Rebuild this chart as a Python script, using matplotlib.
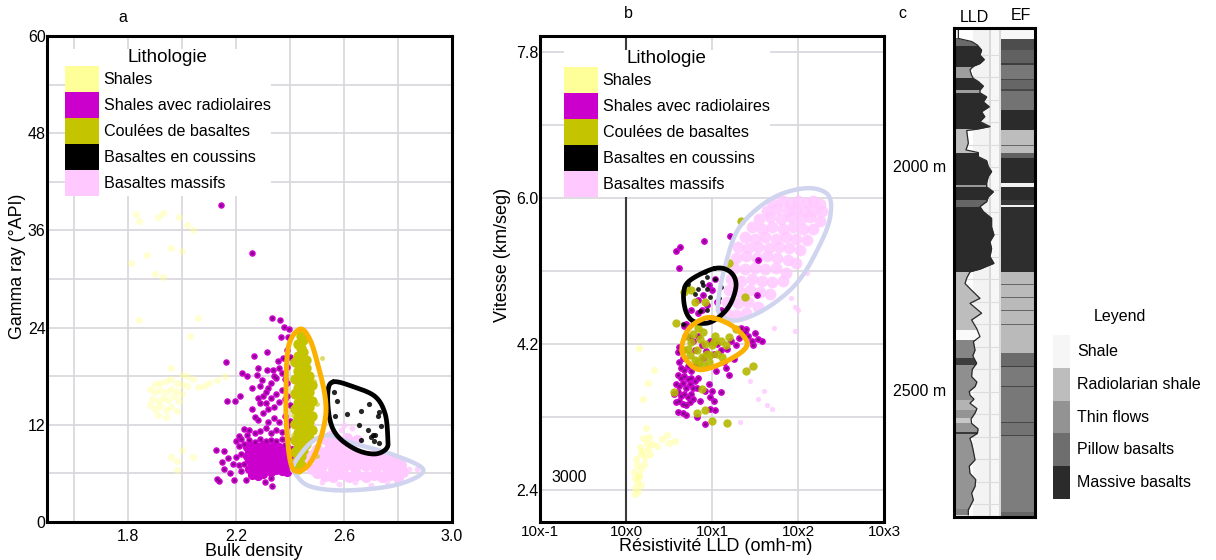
import numpy as np
import matplotlib
matplotlib.use('Agg')
import matplotlib.pyplot as plt
from matplotlib.patches import Patch, Rectangle

plt.rcParams['font.family'] = ['Liberation Sans', 'DejaVu Sans']

# --- Legend text ---
litho_labels = ['Shales', 'Shales avec radiolaires', 'Coulées de basaltes', 'Basaltes en coussins', 'Basaltes massifs']
ef_labels = ['Shale', 'Radiolarian shale', 'Thin flows', 'Pillow basalts', 'Massive basalts']

# --- Panel a: bulk density, gamma ray ---
a_shales = [(1.83,38.0),(1.84,37.2),(1.91,37.7),(1.93,38.2),(1.99,37.6),(2.02,36.7),(2.04,36.0),(1.96,33.8),(1.87,33.0),(1.81,32.0),
            (1.90,30.6),(1.93,30.2),(2.00,33.4),(1.84,25.0),(2.06,25.2),(2.03,23.0),(1.96,19.0),(2.00,18.2),(2.02,18.0),(2.04,17.6),
            (1.90,17.0),(1.92,17.2),(1.94,17.4),(1.96,17.6),(1.98,17.2),(2.00,17.0),(2.02,16.8),(1.88,16.4),(1.90,16.0),(1.92,16.3),
            (1.94,16.0),(1.96,16.4),(1.98,16.2),(2.00,15.8),(1.89,15.2),(1.91,15.0),(1.93,15.3),(1.95,15.1),(1.97,15.5),(1.99,14.9),
            (1.88,14.4),(1.90,14.0),(1.92,14.3),(1.94,13.8),(1.96,14.2),(1.98,13.7),(1.91,13.2),(1.94,13.0),(2.06,16.7),(2.10,17.1),
            (2.13,17.5),(2.16,18.0),(2.08,16.8),(1.96,8.0),(1.98,7.5),(2.00,8.9),(2.04,8.0),(1.98,6.4)]
a_radio = [(2.144,39.1),(2.26,33.2),(2.332,25.2),(2.363,25.0),(2.378,24.1),(2.398,23.8),(2.365,22.9),(2.394,22.9),(2.314,21.0),(2.267,20.5),
           (2.163,19.7),(2.357,19.9),(2.375,20.2),(2.283,19.0),(2.221,18.4),(2.239,18.0),(2.277,18.1),(2.314,18.8),(2.338,18.8),(2.295,17.5),
           (2.258,16.6),(2.289,16.8),(2.317,16.5),(2.168,15.0),(2.198,14.9),(2.215,15.6),(2.258,14.0),(2.289,14.7),(2.126,8.9),(2.156,8.8),
           (2.147,7.4),(2.169,7.9),(2.156,6.6),(2.178,6.0),(2.128,5.3),(2.136,5.1),(2.194,5.2),(2.236,5.2),(2.307,5.0),(2.328,5.4),(2.332,4.4),
           (2.27,13.0),(2.28,12.6),(2.30,13.4),(2.31,14.7),(2.32,13.9),(2.33,15.3),(2.34,14.2),(2.35,15.8),(2.36,14.8),(2.37,16.3),(2.38,15.2),
           (2.39,17.1),(2.31,16.0),(2.33,17.2),(2.35,17.8),(2.37,18.4),(2.39,19.1),(2.36,19.0),(2.34,18.0),(2.30,15.6),(2.28,15.3),(2.32,12.4),
           (2.34,12.9),(2.36,12.3),(2.38,13.1),(2.39,11.8),(2.37,11.1),(2.35,11.4),(2.33,11.0),(2.31,11.6),(2.29,11.2),(2.27,11.0),(2.25,11.3),
           (2.24,10.8),(2.23,11.5),(2.22,10.3),(2.21,10.6),(2.20,10.0),(2.21,9.4),(2.23,9.6),(2.25,10.1),(2.27,9.9),(2.29,10.2),(2.31,10.0),
           (2.33,10.1),(2.35,10.0),(2.37,10.2),(2.39,10.3),(2.40,12.5),(2.38,9.5),(2.40,14.4),(2.39,15.5),(2.38,17.6),(2.40,20.4),(2.39,21.2),
           (2.23,7.2),(2.21,7.0),(2.20,8.0),(2.22,8.4),(2.19,7.1),(2.22,6.3)]
a_radio_dense = [(2.24,9.2),(2.26,9.4),(2.28,9.3),(2.30,9.5),(2.32,9.2),(2.34,9.4),(2.36,9.3),(2.39,9.1),(2.25,8.7),(2.27,8.8),(2.29,8.6),(2.31,8.8),
                 (2.33,8.6),(2.35,8.8),(2.37,8.6),(2.39,8.7),(2.41,8.9),(2.24,8.2),(2.26,8.0),(2.28,8.2),(2.30,8.0),(2.32,8.2),(2.34,8.0),(2.36,8.2),
                 (2.38,8.0),(2.40,8.2),(2.25,7.6),(2.27,7.4),(2.29,7.6),(2.31,7.4),(2.33,7.6),(2.35,7.4),(2.37,7.6),(2.39,7.4),(2.41,7.5),(2.26,6.9),
                 (2.28,6.8),(2.30,7.0),(2.32,6.8),(2.34,7.0),(2.36,6.8),(2.38,7.0),(2.40,6.8),(2.27,6.3),(2.29,6.2),(2.31,6.4),(2.33,6.2),(2.35,6.4),
                 (2.37,6.3),(2.39,6.2),(2.25,6.5),(2.26,5.8),(2.28,5.7),(2.30,5.9)]
a_flows = [(2.44,23.0),(2.45,22.5),(2.43,22.0),(2.44,21.5),(2.45,21.0),(2.43,20.5),(2.46,20.0),(2.42,19.8),(2.44,19.4),(2.46,19.0),
           (2.43,18.6),(2.45,18.2),(2.47,18.0),(2.42,17.7),(2.44,17.4),(2.46,17.1),(2.48,16.9),(2.43,16.6),(2.45,16.3),(2.47,16.0),
           (2.42,15.8),(2.44,15.5),(2.46,15.2),(2.48,15.0),(2.43,14.7),(2.45,14.4),(2.47,14.2),(2.42,14.0),(2.44,13.7),(2.46,13.4),
           (2.48,13.1),(2.43,12.9),(2.45,12.6),(2.47,12.3),(2.42,12.1),(2.44,11.8),(2.46,11.5),(2.48,11.3),(2.43,11.0),(2.45,10.7),
           (2.47,10.4),(2.42,10.1),(2.44,9.8),(2.46,9.6),(2.43,9.2),(2.45,8.9),(2.42,8.6),(2.44,8.2),(2.43,7.8),(2.42,7.3),(2.44,7.0),
           (2.43,6.6)]
a_flows_edge = [(2.50,19.5),(2.49,17.4),(2.50,14.6),(2.41,16.2),(2.41,13.2),(2.41,10.8),(2.50,8.2),(2.52,20.3)]
a_pillow = [(2.564,16.0),(2.573,14.9),(2.567,13.1),(2.61,13.3),(2.663,13.7),(2.691,14.6),(2.731,13.6),(2.727,13.1),(2.654,12.0),(2.736,11.9),
            (2.69,11.3),(2.706,10.7),(2.715,10.7),(2.699,10.5),(2.663,10.1),(2.711,10.0),(2.73,9.8)]
a_massive = [(2.46,7.2),(2.48,6.5),(2.50,7.8),(2.52,6.9),(2.54,7.5),(2.56,6.6),(2.58,7.4),(2.60,6.8),(2.62,7.6),(2.64,6.7),(2.66,7.4),(2.68,6.9),
             (2.70,7.5),(2.72,6.7),(2.74,7.2),(2.76,6.6),(2.78,7.0),(2.80,6.4),(2.82,6.2),(2.50,9.0),(2.53,8.7),(2.55,9.5),(2.57,8.6),(2.59,9.1),
             (2.61,8.2),(2.63,8.9),(2.65,8.3),(2.53,10.2),(2.55,10.6),(2.57,10.0),(2.61,10.4),(2.65,10.1),
             (2.50,6.0),(2.53,5.7),(2.56,5.6),(2.59,5.9),(2.62,5.6),(2.65,5.8),(2.68,5.5),(2.71,5.8),(2.74,5.6),(2.77,5.8),(2.80,5.4),(2.47,8.2),
             (2.49,8.4),(2.51,7.2),(2.53,7.9),(2.55,8.2),(2.57,7.9),(2.59,8.0),(2.61,7.1),(2.63,8.0),(2.65,7.0),(2.67,8.0),(2.69,8.2),(2.71,8.2),
             (2.73,8.0),(2.75,7.8),(2.77,7.6),(2.79,7.5),(2.81,7.0)]
a_massive_sparse = [(2.59,11.4),(2.63,11.6),(2.60,12.0),(2.84,6.5),(2.87,6.6),(2.52,5.0),(2.58,4.7),(2.64,4.9),(2.70,4.6),(2.76,4.9)]

# --- Panel b: log10 LLD resistivity, velocity ---
b_shales = [(0.10,2.42),(0.13,2.50),(0.17,2.46),(0.15,2.58),(0.09,2.62),(0.13,2.70),(0.18,2.66),(0.12,2.78),(0.17,2.84),(0.22,2.80),(0.26,2.90),
            (0.16,2.92),(0.30,2.96),(0.36,2.94),(0.24,2.98),(0.20,3.04),(0.27,3.05),(0.23,3.16),(0.42,3.03),(0.50,2.98),(0.57,3.00),(0.48,3.08),
            (0.15,2.56),(0.21,2.72),(0.32,3.88),(0.15,4.15),(0.25,3.72),(0.10,2.54),(0.20,3.52),(0.11,2.35),(0.14,2.38),(0.19,2.88),(0.28,2.84)]
b_radio = [(1.21,5.53),(0.91,5.47),(0.63,5.40),(0.58,5.34),(0.62,5.13),(1.53,5.23),(1.52,4.80),(1.58,4.23),(1.50,4.33),(1.54,4.26),(1.46,4.24),
           (1.42,4.30),(1.48,4.18),(1.38,4.34),(1.34,4.40),(1.28,4.18),(1.31,4.27),(1.40,4.38),(0.67,4.42),(0.70,4.44),(0.60,4.10),(0.62,4.16),
           (0.66,4.03),(0.73,4.28),(0.78,4.24),(0.80,4.12),(0.84,4.30),(0.88,4.18),(0.90,4.02),(0.93,4.11),(0.98,4.24),(1.02,4.07),(1.06,4.20),
           (1.10,4.12),(1.14,3.98),(1.18,4.13),(1.22,4.24),(1.25,4.01),(1.16,3.90),(1.20,3.82),(1.05,3.86),(0.62,3.98),(0.64,3.90),(0.68,3.88),
           (0.72,3.92),(0.76,3.86),(0.80,3.92),(0.60,3.82),(0.64,3.78),(0.68,3.80),(0.72,3.76),(0.76,3.78),(0.80,3.74),(0.84,3.78),(0.58,3.70),
           (0.62,3.68),(0.66,3.72),(0.70,3.66),(0.74,3.70),(0.78,3.65),(0.82,3.66),(0.56,3.58),(0.60,3.60),(0.64,3.56),(0.68,3.58),(0.72,3.54),
           (0.76,3.58),(0.58,3.48),(0.62,3.50),(0.66,3.46),(0.70,3.44),(0.74,3.48),(0.78,3.52),(0.96,3.70),(1.00,3.62),(0.98,3.54),(1.02,3.50),
           (0.60,3.36),(0.66,3.34),(0.70,3.32),(0.82,3.30),(0.92,3.21),(0.98,3.40),(1.04,3.38),(0.88,4.62),(0.94,4.68),(0.84,4.74),(0.90,4.80),
           (1.00,4.86),(1.06,4.72),(0.96,4.92),(0.84,4.58),(1.10,4.62),(1.04,5.00),(0.76,4.62),(0.86,3.50),(1.10,3.60),(0.92,3.62)]
b_flows = [(0.70,4.90),(0.76,4.86),(0.68,4.84),(0.80,4.72),(0.92,4.72),(0.58,4.46),(0.76,4.22),(0.82,4.12),(0.86,4.26),(0.90,4.34),(0.94,4.08),
           (1.00,4.18),(1.04,4.30),(1.10,4.24),(1.16,4.18),(0.74,4.06),(0.80,4.00),(0.84,3.96),(0.72,4.14),(0.88,4.04),(0.96,3.98),(1.06,4.08),
           (1.12,4.04),(1.20,4.28),(1.28,4.38),(0.70,4.30),(0.66,4.12),(0.78,4.32),(0.84,4.40),(0.92,4.20),(0.98,4.06),(1.02,4.22),(0.90,3.94),
           (0.56,3.60),(0.88,3.64),(0.92,3.38),(0.82,3.34),(1.00,3.25),(1.17,3.22),(1.48,3.92),(1.40,3.87),(1.34,5.72),(1.20,5.20),(1.38,4.78)]
b_pillow = [(0.92,5.09),(0.94,5.02),(0.88,4.96),(0.84,4.88),(0.90,4.92),(0.94,4.88),(1.04,5.00),(1.10,4.90),(0.72,4.94),(0.80,4.82),(0.94,4.62),
            (0.86,4.60),(0.66,4.44),(0.98,4.78),(1.08,4.76)]
b_massive = [(1.70,5.95),(1.82,5.96),(1.92,5.92),(2.00,5.96),(2.10,5.94),(2.18,5.96),(2.26,5.92),(1.64,5.84),(1.76,5.86),(1.88,5.84),(1.98,5.86),
             (2.08,5.84),(2.18,5.84),(2.28,5.84),(1.55,5.74),(1.68,5.76),(1.80,5.74),(1.92,5.76),(2.04,5.74),(2.14,5.76),(2.25,5.72),(1.46,5.64),
             (1.58,5.62),(1.70,5.64),(1.82,5.62),(1.94,5.64),(2.06,5.62),(2.18,5.62),(1.38,5.52),(1.50,5.50),(1.62,5.52),(1.74,5.50),(1.86,5.52),
             (1.98,5.50),(2.10,5.48),(1.30,5.40),(1.42,5.38),(1.54,5.40),(1.66,5.38),(1.78,5.40),(1.90,5.38),(2.02,5.36),(1.28,5.26),(1.40,5.28),
             (1.52,5.26),(1.64,5.28),(1.76,5.26),(1.88,5.24),(1.98,5.20),(1.26,5.14),(1.38,5.12),(1.50,5.14),(1.62,5.12),(1.74,5.14),(1.86,5.08),
             (1.22,5.00),(1.34,4.98),(1.46,5.00),(1.58,4.98),(1.70,4.96),(1.82,4.98),(1.20,4.86),(1.32,4.84),(1.44,4.86),(1.56,4.84),(1.68,4.82),
             (1.18,4.72),(1.30,4.70),(1.42,4.72),(1.54,4.66),(1.16,4.58),(1.28,4.56),(1.40,4.58)]
b_massive_sparse = [(1.92,4.76),(1.96,4.66),(2.00,4.62),(1.96,4.36),(1.44,3.90),(1.44,3.74),(1.60,3.62),(1.64,3.44),(1.54,3.52),(1.70,3.40),(1.32,3.24),
                    (2.10,5.08),(1.72,4.40)]

# --- Outlines drawn on the published figure ---
a_orange = [(2.437,23.8),(2.474,22.5),(2.505,19.2),(2.530,15.5),(2.530,12.6),(2.499,8.9),(2.462,6.8),(2.419,6.3),(2.400,7.7),(2.388,11.4),(2.385,15.5),(2.394,21.6)]
a_black = [(2.560,17.3),(2.635,16.7),(2.715,15.5),(2.752,13.4),(2.762,10.5),(2.758,9.1),(2.715,8.4),(2.647,8.9),(2.579,10.5),(2.548,12.6),(2.540,15.9)]
a_lavender = [(2.412,7.0),(2.474,9.7),(2.542,10.7),(2.635,9.7),(2.783,8.3),(2.894,6.4),(2.795,4.6),(2.610,3.9),(2.474,4.4),(2.419,6.0)]
b_lavender = [(1.07,4.70),(1.15,5.15),(1.32,5.64),(1.69,5.99),(2.08,6.12),(2.34,6.05),(2.38,5.81),(2.28,5.48),(2.01,4.98),(1.65,4.65),(1.30,4.49),(1.11,4.55)]
b_black = [(1.03,5.13),(1.21,5.09),(1.28,4.92),(1.19,4.65),(0.99,4.47),(0.80,4.47),(0.70,4.59),(0.67,4.82),(0.74,4.98)]
b_orange = [(1.01,4.52),(1.25,4.41),(1.41,4.20),(1.23,4.02),(0.88,3.88),(0.70,4.00),(0.65,4.16),(0.72,4.37),(0.86,4.49)]

# --- Panel c: LLD log (depth m, log10 ohm-m) ---
lld_trace = [(1696,-0.63),(1714,-0.63),(1716,-0.35),(1721,0.50),(1729,0.99),(1740,1.35),(1751,1.21),(1761,1.58),(1770,1.21),(1776,0.65),(1784,0.36),
             (1796,0.50),(1803,0.65),(1810,1.07),(1820,1.50),(1829,1.21),(1835,1.21),(1844,1.78),(1855,1.50),(1866,2.00),(1877,1.35),(1888,1.62),
             (1899,1.21),(1910,2.06),(1916,0.93),(1919,0.08),(1947,0.22),(1962,0.02),(1968,1.07),(1977,1.07),(1986,1.78),(1999,1.92),(2010,2.20),
             (2021,1.92),(2035,1.78),(2044,1.78),(2055,2.35),(2066,1.92),(2077,1.78),(2088,1.21),(2099,1.50),(2114,2.20),(2133,2.20),(2151,2.40),
             (2166,2.06),(2181,2.20),(2199,2.06),(2214,2.40),(2227,1.21),(2233,0.36),(2247,0.08),(2259,-0.06),(2274,0.50),(2292,1.21),(2303,0.36),
             (2325,1.35),(2340,0.50),(2359,0.93),(2377,1.21),(2388,0.65),(2407,0.79),(2420,0.60),(2436,0.93),(2450,0.55),(2466,0.50),(2478,0.95),
             (2488,0.79),(2499,0.30),(2507,0.36),(2516,0.70),(2525,0.36),(2537,0.95),(2547,0.79),(2560,0.45),(2570,0.50),(2582,1.05),(2592,0.99),
             (2603,0.35),(2614,0.50),(2632,0.65),(2651,0.79),(2665,0.30),(2681,0.36),(2695,0.85),(2710,0.79),(2725,0.50),(2740,0.65),(2762,0.22),(2773,0.22)]
lld_top = [1713, 1731, 1778, 1802, 1829, 1836, 1916, 1968, 2040, 2044, 2073, 2089, 2233, 2362, 2384, 2425, 2441, 2518, 2540, 2558, 2569, 2589, 2594, 2760]
lld_base = [1731, 1778, 1802, 1829, 1836, 1916, 1968, 2040, 2044, 2073, 2089, 2233, 2362, 2384, 2425, 2441, 2518, 2540, 2558, 2569, 2589, 2594, 2760, 2778]
lld_gray = [0.42, 0.17, 0.62, 0.17, 0.62, 0.17, 0.74, 0.17, 0.60, 0.17, 0.40, 0.17, 0.74, 0.98, 0.52, 0.24, 0.56, 0.70, 0.58, 0.78, 0.58, 0.22, 0.58, 0.50]

# --- Panel c: EF beds (depth m) ---
ef_top = [1691, 1716, 1740, 1769, 1773, 1804, 1807, 1827, 1831, 1873, 1918, 1951, 1953, 1969, 1980, 2036, 2044, 2073, 2084, 2089, 2233, 2260, 2262,
          2289, 2291, 2318, 2320, 2349, 2351, 2413, 2442, 2444, 2487, 2489, 2567, 2569, 2596, 2598, 2767]
ef_base = [1716, 1740, 1769, 1773, 1804, 1807, 1827, 1831, 1873, 1918, 1951, 1953, 1969, 1980, 2036, 2044, 2073, 2084, 2089, 2233, 2260, 2262, 2289,
           2291, 2318, 2320, 2349, 2351, 2413, 2442, 2444, 2487, 2489, 2567, 2569, 2596, 2598, 2767, 2778]
ef_gray = [0.97, 0.30, 0.38, 0.24, 0.47, 0.28, 0.40, 0.28, 0.45, 0.17, 0.74, 0.40, 0.74, 0.38, 0.17, 0.95, 0.17, 0.22, 0.95, 0.18, 0.73, 0.40, 0.73,
           0.40, 0.73, 0.40, 0.73, 0.40, 0.73, 0.42, 0.25, 0.48, 0.28, 0.47, 0.28, 0.45, 0.28, 0.49, 0.40]

W, H = 1216, 560
fig = plt.figure(figsize=(W / 100, H / 100), dpi=100)

C_SHALE = '#ffff99'
C_RADIO = '#cc00cc'
C_FLOW = '#c4c400'
C_PILLOW = '#000000'
C_MASSIVE = '#ffc8ff'
C_LAV = '#d0d4ee'
C_ORANGE = '#fcb000'
C_GRID = '#d8d6dc'
litho_colors = [C_SHALE, C_RADIO, C_FLOW, C_PILLOW, C_MASSIVE]
ef_colors = ['#f6f6f6', '#bdbdbd', '#939393', '#6e6e6e', '#2b2b2b']


def px_axes(l, t, r, b):
    return fig.add_axes([l / W, 1 - b / H, (r - l) / W, (b - t) / H])


def smooth_closed(pts):
    # Catmull-Rom through the hand-read outline points
    p = np.array(pts, dtype=float)
    n = len(p)
    out = []
    for i in range(n):
        p0, p1, p2, p3 = p[i - 1], p[i], p[(i + 1) % n], p[(i + 2) % n]
        for t in np.linspace(0, 1, 16, endpoint=False):
            out.append(0.5 * (2 * p1 + (p2 - p0) * t + (2 * p0 - 5 * p1 + 4 * p2 - p3) * t ** 2 + (3 * p1 - p0 - 3 * p2 + p3) * t ** 3))
    out.append(out[0])
    return np.array(out)


def scatter_pts(ax, pts, color, size, alpha=1.0, core=None, logx=False, z=2):
    p = np.array(pts)
    x = 10 ** p[:, 0] if logx else p[:, 0]
    ax.scatter(x, p[:, 1], s=size, color=color, alpha=alpha, linewidths=0, zorder=z)
    if core:
        ax.scatter(x, p[:, 1], s=size * 0.2, color=core, alpha=0.6, linewidths=0, zorder=z)


def outline(ax, pts, color, lw, logx=False, z=6):
    c = smooth_closed(pts)
    x = 10 ** c[:, 0] if logx else c[:, 0]
    ax.plot(x, c[:, 1], color=color, lw=lw, zorder=z, solid_capstyle='round', solid_joinstyle='round')


def litho_legend(px_left, px_top):
    handles = [Patch(facecolor=c, edgecolor='none') for c in litho_colors]
    leg = fig.legend(handles, litho_labels, title='Lithologie', loc='upper left', bbox_to_anchor=(px_left / W, 1 - px_top / H),
                     fontsize=11.6, title_fontsize=13.5, handlelength=2.1, handleheight=2.1, labelspacing=0, handletextpad=0.3,
                     borderpad=0.0, borderaxespad=0, frameon=True, framealpha=1, facecolor='white', edgecolor='none', fancybox=False)
    leg.get_frame().set_linewidth(0)
    leg.set_zorder(10)


# --- Panel a ---
ax = px_axes(47, 36, 452, 522)
ax.set_xlim(1.5, 3.0)
ax.set_ylim(0, 60)
ax.set_xticks([1.6, 1.8, 2.0, 2.2, 2.4, 2.6, 2.8, 3.0])
ax.set_xticklabels(['', '1.8', '', '2.2', '', '2.6', '', '3.0'], fontsize=11.5)
ax.set_yticks([0, 6, 12, 18, 24, 30, 36, 42, 48, 54, 60])
ax.set_yticklabels(['0', '', '12', '', '24', '', '36', '', '48', '', '60'], fontsize=11.5)
ax.tick_params(axis='x', length=0, pad=5)
ax.tick_params(axis='y', length=0, pad=1)
ax.grid(color=C_GRID, lw=1.2)
ax.set_axisbelow(True)
for s in ax.spines.values():
    s.set_linewidth(2.2)
ax.set_xlabel('Bulk density', fontsize=13)
ax.xaxis.set_label_coords(0.511, -0.043)
ax.set_ylabel('Gamma ray (°API)', fontsize=12.8)
ax.yaxis.set_label_coords(-0.052, 0.527)

scatter_pts(ax, a_shales, C_SHALE, 26, alpha=0.45)
scatter_pts(ax, a_massive, C_MASSIVE, 64)
scatter_pts(ax, a_massive_sparse, C_MASSIVE, 18, alpha=0.8)
scatter_pts(ax, a_radio_dense, C_RADIO, 44)
scatter_pts(ax, a_radio, C_RADIO, 22, core='#50105a')
scatter_pts(ax, a_flows, C_FLOW, 56, z=3)
scatter_pts(ax, a_flows_edge, C_FLOW, 12, alpha=0.6, z=3)
scatter_pts(ax, a_pillow, C_PILLOW, 14, alpha=0.85, z=4)
outline(ax, a_lavender, C_LAV, 3.2)
outline(ax, a_black, 'black', 3.4)
outline(ax, a_orange, C_ORANGE, 3.6)
litho_legend(65, 49)
fig.text(123 / W, 1 - 18 / H, 'a', fontsize=11.5, ha='center', va='center')

# --- Panel b ---
bx = px_axes(540, 36, 884, 522)
bx.set_xscale('log')
bx.set_xlim(0.1, 1000)
bx.set_ylim(2.0, 8.0)
bx.set_xticks([0.1, 1, 10, 100, 1000])
bx.set_xticklabels(['10x-1', '10x0', '10x1', '10x2', '10x3'], fontsize=11)
bx.minorticks_off()
bx.set_yticks([2.4, 3.3, 4.2, 5.1, 6.0, 6.9, 7.8])
bx.set_yticklabels(['2.4', '', '4.2', '', '6.0', '', '7.8'], fontsize=11.5)
bx.tick_params(axis='x', length=0, pad=2)
bx.tick_params(axis='y', length=0, pad=1)
bx.grid(color=C_GRID, lw=1.2)
bx.set_axisbelow(True)
bx.axvline(1, color='#3a3a3a', lw=1.5, zorder=1)
for s in bx.spines.values():
    s.set_linewidth(2.2)
bx.set_xlabel('Résistivité LLD (omh-m)', fontsize=13)
bx.xaxis.set_label_coords(0.512, -0.033)
bx.set_ylabel('Vitesse (km/seg)', fontsize=13)
bx.yaxis.set_label_coords(-0.084, 0.549)

scatter_pts(bx, b_shales, C_SHALE, 26, alpha=0.55, logx=True)
scatter_pts(bx, b_massive, C_MASSIVE, 72, alpha=0.85, logx=True)
scatter_pts(bx, b_massive_sparse, C_MASSIVE, 14, alpha=0.8, logx=True)
scatter_pts(bx, b_radio, C_RADIO, 24, core='#50105a', logx=True, z=3)
scatter_pts(bx, b_flows, '#b4b800', 36, alpha=0.9, logx=True, z=4)
scatter_pts(bx, b_pillow, C_PILLOW, 12, alpha=0.85, logx=True, z=5)
outline(bx, b_lavender, C_LAV, 3.2, logx=True)
outline(bx, b_black, 'black', 3.4, logx=True)
outline(bx, b_orange, C_ORANGE, 3.6, logx=True)
bx.text(0.219, 2.555, '3000', fontsize=11.5, ha='center', va='center')
litho_legend(564, 50)
fig.text(628 / W, 1 - 14 / H, 'b', fontsize=11.5, ha='center', va='center')

# --- Panel c ---
y_range = (2778, 1691)
lx = px_axes(954, 28, 1001, 517)
lx.set_xlim(-1, 3)
lx.set_ylim(*y_range)
lx.axis('off')
lx.add_patch(Rectangle((-1, 1691), 4, 1087, facecolor='white', edgecolor='none'))
lx.axvspan(0.65, 1.95, color='#f3f3f3', lw=0)
lx.axvspan(1.95, 2.15, color='#d9d9d9', lw=0)
lx.axvspan(2.15, 2.85, color='#f7f7f7', lw=0)
lx.axvspan(2.85, 3.0, color='#d9d9d9', lw=0)
lx.hlines(np.arange(1750, 2778, 50), -1, 3, color='#dddddd', lw=0.8)

trace = np.array(lld_trace)
for top, base, g in zip(lld_top, lld_base, lld_gray):
    poly = lx.fill_betweenx(trace[:, 0], -1, trace[:, 1], color=str(g), lw=0, zorder=2)
    poly.set_clip_path(Rectangle((-1, top), 4, base - top, transform=lx.transData))
lx.plot(trace[:, 1], trace[:, 0], color='#2a2a2a', lw=0.9, zorder=3)

ex = px_axes(1001, 28, 1035, 517)
ex.set_xlim(0, 1)
ex.set_ylim(*y_range)
ex.axis('off')
ex.barh(ef_top, [1] * len(ef_top), height=np.array(ef_base) - np.array(ef_top), align='edge', color=[str(g) for g in ef_gray], lw=0)

fx = px_axes(954, 28, 1035, 517)
fx.patch.set_alpha(0)
fx.set_xticks([])
fx.set_yticks([])
for s in fx.spines.values():
    s.set_linewidth(2.2)

fig.text(902 / W, 1 - 13 / H, 'c', fontsize=11.5, ha='center', va='center')
fig.text(974 / W, 1 - 17 / H, 'LLD', fontsize=11.5, ha='center', va='center')
fig.text(1021 / W, 1 - 16 / H, 'EF', fontsize=11.5, ha='center', va='center')
fig.text(920 / W, 1 - 167 / H, '2000 m', fontsize=11.5, ha='center', va='center')
fig.text(920 / W, 1 - 392 / H, '2500 m', fontsize=11.5, ha='center', va='center')

ef_handles = [Patch(facecolor=c, edgecolor='none') for c in ef_colors]
fig.legend(ef_handles, ef_labels, loc='upper left', bbox_to_anchor=(1053 / W, 1 - 335 / H), fontsize=11.5,
           handlelength=1.06, handleheight=2.78, labelspacing=0, handletextpad=0.45, borderpad=0, borderaxespad=0, frameon=False)
fig.text(1120 / W, 1 - 316 / H, 'Leyend', fontsize=11.5, ha='center', va='center')

fig.savefig('out.png', dpi=100)
